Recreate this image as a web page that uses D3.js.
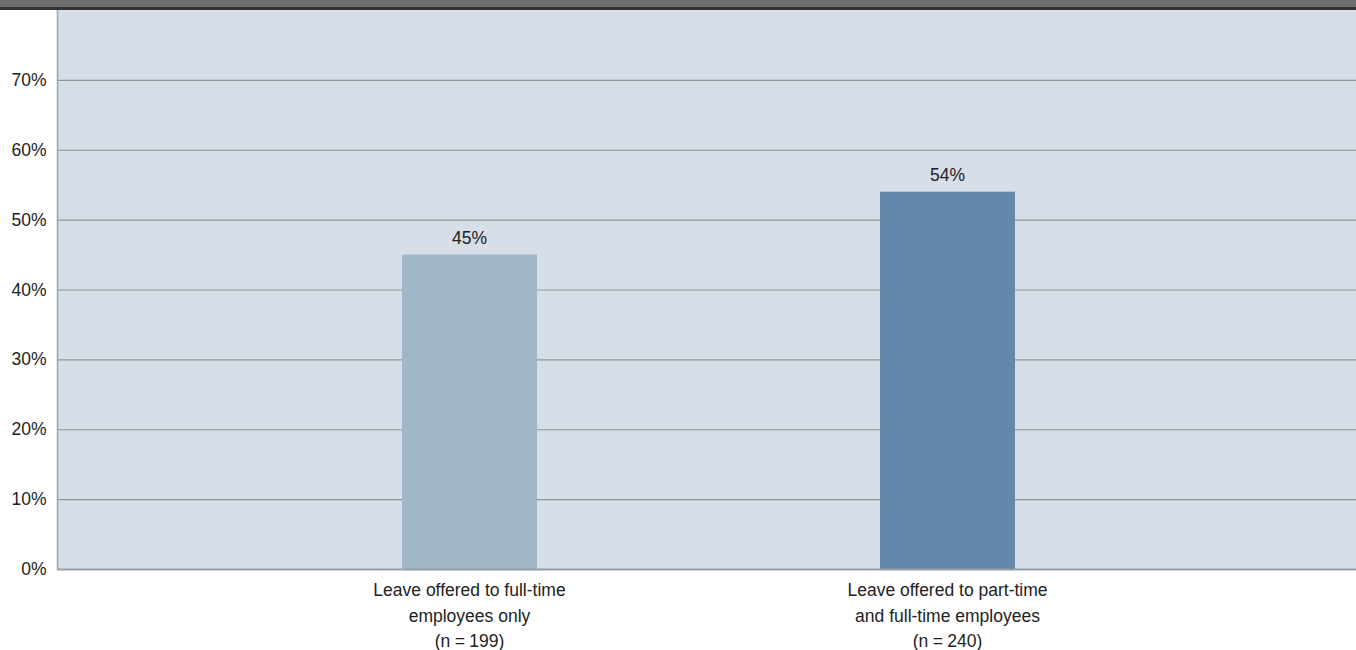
<!DOCTYPE html>
<html><head><meta charset="utf-8">
<script src="https://cdn.jsdelivr.net/npm/d3@7"></script>
<style>body{margin:0;background:#fff}svg{display:block}text{font-family:"Liberation Sans",Arial,sans-serif}</style>
</head><body>
<script>
const categories = ["full", "part"];
const categoryLabels = [
  ["Leave offered to full-time", "employees only", "(n\u2005=\u2005199)"],
  ["Leave offered to part-time", "and full-time employees", "(n\u2005=\u2005240)"]
];
const values = [45, 54];
const barColors = ["#a2b6ca", "#6289aa"];
const tickValues = [0, 10, 20, 30, 40, 50, 60, 70];

(function () {
const W = 1356, H = 650;
const pl = 57, pr = 1356, pt = 10, pb = 569;
const FS = 17.5;
const svg = d3.select("body").append("svg").attr("width", W).attr("height", H);

// top band
svg.append("rect").attr("x", 0).attr("y", 0).attr("width", W).attr("height", 8).attr("fill", "#6e6e6e");
svg.append("rect").attr("x", 0).attr("y", 7).attr("width", W).attr("height", 3).attr("fill", "#333");

const y = d3.scaleLinear().domain([0, 80]).range([pb, pt]);
const x = d3.scaleBand().domain(categories).range([230.5, 1186.5])
  .paddingInner(0.7176).paddingOuter(0.3588);

svg.append("rect").attr("x", pl).attr("y", pt).attr("width", pr - pl).attr("height", pb - pt).attr("fill", "#d7dee8");

// gridlines
svg.append("g").selectAll("line").data(tickValues.filter(d => d > 0)).join("line")
  .attr("x1", pl).attr("x2", pr).attr("y1", d => y(d) + 0.5).attr("y2", d => y(d) + 0.5)
  .attr("stroke", "#8f959c").attr("stroke-width", 1.2);

// bars
svg.append("g").selectAll("rect").data(values).join("rect")
  .attr("x", (d, i) => x(categories[i]))
  .attr("width", x.bandwidth())
  .attr("y", d => y(d))
  .attr("height", d => pb - y(d))
  .attr("fill", (d, i) => barColors[i]);

svg.append("g").selectAll("text").data(values).join("text")
  .attr("x", (d, i) => x(categories[i]) + x.bandwidth() / 2)
  .attr("y", d => y(d) - 11)
  .attr("text-anchor", "middle").attr("font-size", FS).attr("fill", "#222")
  .text(d => d + "%");

// axes lines
svg.append("line").attr("x1", pl + 0.5).attr("x2", pl + 0.5).attr("y1", pt).attr("y2", pb + 1)
  .attr("stroke", "#9ea4aa").attr("stroke-width", 1.5);
svg.append("line").attr("x1", pl).attr("x2", pr).attr("y1", pb + 0.5).attr("y2", pb + 0.5)
  .attr("stroke", "#979da3").attr("stroke-width", 2);

// y tick labels
svg.append("g").selectAll("text").data(tickValues).join("text")
  .attr("x", 46.5).attr("y", d => y(d) + 6)
  .attr("text-anchor", "end").attr("font-size", FS).attr("fill", "#222")
  .text(d => d + "%");

// category labels
categories.forEach((c, i) => {
  const t = svg.append("text").attr("text-anchor", "middle").attr("font-size", FS).attr("fill", "#222");
  categoryLabels[i].forEach((line, j) => {
    t.append("tspan").attr("x", x(c) + x.bandwidth() / 2).attr("y", 596 + j * 25.5).text(line);
  });
});
})();
</script>
</body></html>
